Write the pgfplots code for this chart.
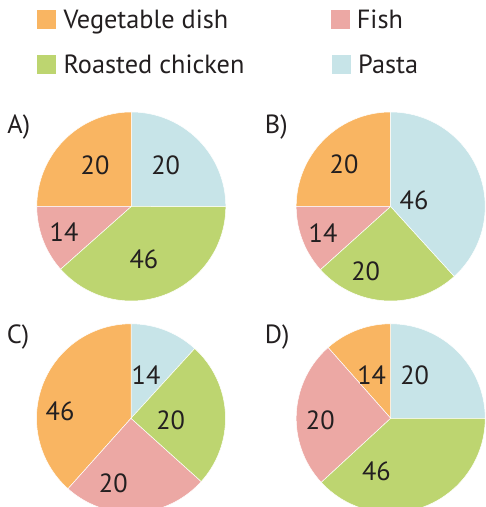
\documentclass[border=0pt]{standalone}
\usepackage{pgfplots}
\pgfplotsset{compat=1.18}
\usepackage{fontspec}
\setmainfont{PT Sans}
\definecolor{cVeg}{HTML}{F9B562}
\definecolor{cFish}{HTML}{ECA8A4}
\definecolor{cChk}{HTML}{BDD570}
\definecolor{cPasta}{HTML}{C7E4E8}
\definecolor{txt}{HTML}{231F20}
\newcommand{\bigf}{\fontsize{26.3}{31}\selectfont}
% sector: start angle, end angle, colour
\newcommand{\sector}[3]{\addplot[fill=#3, draw=white, line width=0.5pt, domain=#1:#2, samples=90, variable=\t] ({cos(t)},{sin(t)}) -- (axis cs:0,0) -- cycle;}
\pgfplotsset{pie/.style={width=189pt, height=189pt, scale only axis, hide axis, clip=false,
  xmin=-1, xmax=1, ymin=-1, ymax=1, anchor=center}}
\tikzset{lbl/.style={font=\bigf, text=txt, inner sep=0pt}}
\begin{document}
\begin{tikzpicture}
\useasboundingbox (0pt,0pt) rectangle (486pt,507pt);
\clip (0pt,0pt) rectangle (486pt,507pt);
% A
\begin{axis}[pie, at={(131.3pt,300.5pt)}]
\sector{0}{90}{cPasta}
\sector{90}{180}{cVeg}
\sector{180}{221.6}{cFish}
\sector{221.6}{360}{cChk}
\node[lbl] at (axis cs:-0.384,0.439) {20};
\node[lbl] at (axis cs:0.364,0.439) {20};
\node[lbl] at (axis cs:-0.712,-0.267) {14};
\node[lbl] at (axis cs:0.134,-0.559) {46};
\end{axis}
% B
\begin{axis}[pie, at={(390.7pt,300.5pt)}]
\sector{90}{180}{cVeg}
\sector{180}{222}{cFish}
\sector{222}{312.3}{cChk}
\sector{312.3}{450}{cPasta}
\node[lbl] at (axis cs:-0.494,0.447) {20};
\node[lbl] at (axis cs:0.247,0.061) {46};
\node[lbl] at (axis cs:-0.716,-0.277) {14};
\node[lbl] at (axis cs:-0.265,-0.690) {20};
\end{axis}
% C
\begin{axis}[pie, at={(131pt,88.7pt)}]
\sector{47.6}{90}{cPasta}
\sector{90}{228.2}{cVeg}
\sector{228.2}{318}{cFish}
\sector{318}{407.6}{cChk}
\node[lbl] at (axis cs:0.159,0.458) {14};
\node[lbl] at (axis cs:0.420,-0.018) {20};
\node[lbl] at (axis cs:-0.751,0.070) {46};
\node[lbl] at (axis cs:-0.187,-0.688) {20};
\end{axis}
% D
\begin{axis}[pie, at={(390.7pt,88.7pt)}]
\sector{0}{90}{cPasta}
\sector{90}{131.5}{cVeg}
\sector{131.5}{222.7}{cFish}
\sector{222.7}{360}{cChk}
\node[lbl] at (axis cs:-0.201,0.458) {14};
\node[lbl] at (axis cs:0.254,0.458) {20};
\node[lbl] at (axis cs:-0.745,-0.018) {20};
\node[lbl] at (axis cs:-0.152,-0.558) {46};
\end{axis}
% panel letters
\node[lbl, anchor=base west] at (7.3pt,373.7pt) {A)};
\node[lbl, anchor=base west] at (264.7pt,373.7pt) {B)};
\node[lbl, anchor=base west] at (6.7pt,163.7pt) {C)};
\node[lbl, anchor=base west] at (264.7pt,163.7pt) {D)};
% legend
\fill[cVeg] (36.7pt,478pt) rectangle (55.7pt,497pt);
\node[lbl, anchor=base west] at (63.3pt,478.7pt) {Vegetable dish};
\fill[cFish] (331pt,478pt) rectangle (350pt,497pt);
\node[lbl, anchor=base west] at (356.7pt,478.7pt) {Fish};
\fill[cChk] (36.7pt,433pt) rectangle (55.7pt,452pt);
\node[lbl, anchor=base west] at (63.3pt,433.7pt) {Roasted chicken};
\fill[cPasta] (332pt,433pt) rectangle (351pt,452pt);
\node[lbl, anchor=base west] at (358pt,433.7pt) {Pasta};
\end{tikzpicture}
\end{document}
